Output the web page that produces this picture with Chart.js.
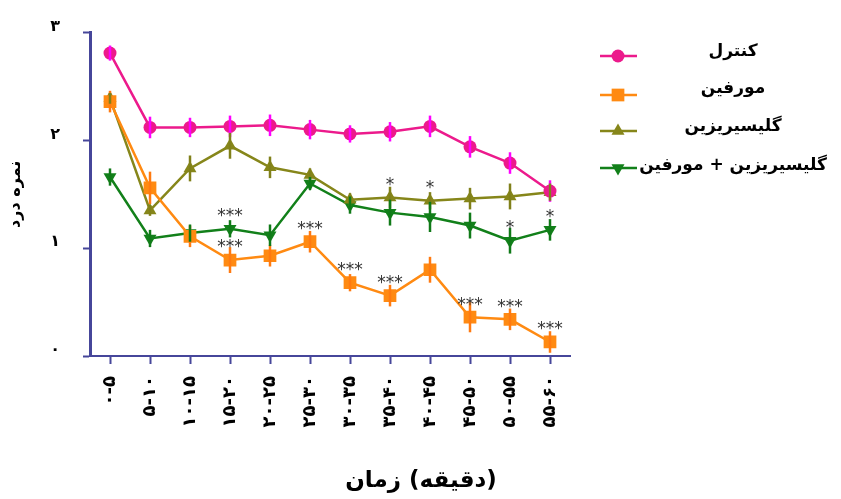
<!DOCTYPE html>
<html>
<head>
<meta charset="utf-8">
<script src="https://cdn.jsdelivr.net/npm/chart.js@4.4.0/dist/chart.umd.min.js"></script>
<style>
  html, body { margin: 0; padding: 0; background: #fff; }
  #wrap { width: 841px; height: 499px; position: relative; }
</style>
</head>
<body>
<div id="wrap"><canvas id="c" width="841" height="499"></canvas></div>
<script>
// Time bins (minutes)
const timeBins = ['۰-۵', '۵-۱۰', '۱۰-۱۵', '۱۵-۲۰', '۲۰-۲۵', '۲۵-۳۰', '۳۰-۳۵', '۳۵-۴۰', '۴۰-۴۵', '۴۵-۵۰', '۵۰-۵۵', '۵۵-۶۰'];
const yTickLabels = ['۰', '۱', '۲', '۳'];
const xTitle = 'زمان (دقیقه)';
const yTitle = 'نمره درد';

// Series names
const seriesNames = ['کنترل', 'مورفین', 'گلیسیریزین', 'گلیسیریزین + مورفین'];

// Mean pain scores
const controlMean   = [2.81, 2.12, 2.12, 2.13, 2.14, 2.10, 2.06, 2.08, 2.13, 1.94, 1.79, 1.53];
const morphineMean  = [2.36, 1.56, 1.11, 0.89, 0.93, 1.06, 0.68, 0.56, 0.80, 0.36, 0.34, 0.13];
const glyMean       = [2.39, 1.35, 1.74, 1.95, 1.75, 1.68, 1.45, 1.47, 1.44, 1.46, 1.48, 1.52];
const glyMorphMean  = [1.66, 1.09, 1.14, 1.18, 1.12, 1.60, 1.40, 1.33, 1.29, 1.21, 1.07, 1.17];

// Standard errors
const controlErr    = [0.07, 0.10, 0.09, 0.10, 0.10, 0.09, 0.08, 0.09, 0.10, 0.10, 0.10, 0.10];
const morphineErr   = [0.10, 0.15, 0.10, 0.12, 0.10, 0.10, 0.08, 0.10, 0.12, 0.14, 0.10, 0.10];
const glyErr        = [0.05, 0.05, 0.12, 0.12, 0.10, 0.06, 0.06, 0.10, 0.08, 0.10, 0.12, 0.08];
const glyMorphErr   = [0.08, 0.08, 0.08, 0.08, 0.10, 0.06, 0.08, 0.12, 0.14, 0.12, 0.12, 0.10];

// Significance marks
const controlSig    = ['', '', '', '', '', '', '', '', '', '', '', ''];
const morphineSig   = ['', '', '', '***', '', '***', '***', '***', '', '***', '***', '***'];
const glySig        = ['', '', '', '', '', '', '', '*', '*', '', '', ''];
const glyMorphSig   = ['', '', '', '***', '', '', '', '', '', '', '*', '*'];

const axisColor = '#46469a';
const fontFam = '"DejaVu Sans", sans-serif';

const styles = [
  { color: '#ec1a8c', errColor: '#f0f', point: 'circle', radius: 6.5, rot: 0 },
  { color: '#ff8a12', errColor: '#ff7a10', point: 'rect', radius: 9, rot: 0 },
  { color: '#86861a', errColor: '#80801a', point: 'triangle', radius: 7.5, rot: 0 },
  { color: '#12801a', errColor: '#107a18', point: 'triangle', radius: 7.5, rot: 180 }
];
const means = [controlMean, morphineMean, glyMean, glyMorphMean];
const errs = [controlErr, morphineErr, glyErr, glyMorphErr];
const sigs = [controlSig, morphineSig, glySig, glyMorphSig];

const datasets = means.map((m, i) => ({
  label: seriesNames[i],
  data: m,
  errors: errs[i],
  sig: sigs[i],
  errColor: styles[i].errColor,
  borderColor: styles[i].color,
  backgroundColor: styles[i].color,
  pointBackgroundColor: styles[i].color,
  pointBorderColor: styles[i].color,
  borderWidth: 2.5,
  pointStyle: styles[i].point,
  pointRadius: styles[i].radius,
  pointRotation: styles[i].rot,
  pointBorderWidth: 0,
  tension: 0
}));

// Vertical error bars and significance asterisks
const annotate = {
  id: 'annotate',
  afterDatasetsDraw(chart) {
    const ctx = chart.ctx;
    const y = chart.scales.y;
    ctx.save();
    chart.data.datasets.forEach((ds, di) => {
      const meta = chart.getDatasetMeta(di);
      meta.data.forEach((pt, i) => {
        const v = ds.data[i], e = ds.errors[i];
        ctx.strokeStyle = ds.errColor;
        ctx.lineWidth = 2.5;
        ctx.beginPath();
        ctx.moveTo(pt.x, y.getPixelForValue(v - e));
        ctx.lineTo(pt.x, y.getPixelForValue(v + e));
        ctx.stroke();
      });
    });
    ctx.fillStyle = '#333';
    ctx.font = '17px ' + fontFam;
    ctx.textAlign = 'center';
    ctx.textBaseline = 'middle';
    chart.data.datasets.forEach((ds, di) => {
      const meta = chart.getDatasetMeta(di);
      meta.data.forEach((pt, i) => {
        const s = ds.sig[i];
        if (s) ctx.fillText(s, pt.x, pt.y - 12);
      });
    });
    ctx.restore();
  }
};

// Legend at the right and the time-axis caption
const sideLegend = {
  id: 'sideLegend',
  afterDraw(chart) {
    const ctx = chart.ctx;
    const rows = [56, 95, 131, 168];
    const textRows = [52, 89, 127, 166];
    ctx.save();
    chart.data.datasets.forEach((ds, i) => {
      const st = styles[i];
      const yy = rows[i];
      ctx.strokeStyle = st.color;
      ctx.lineWidth = 2.5;
      ctx.beginPath();
      ctx.moveTo(600, yy);
      ctx.lineTo(637, yy);
      ctx.stroke();
      ctx.fillStyle = st.color;
      const cx = 618, r = st.radius;
      ctx.beginPath();
      if (st.point === 'circle') {
        ctx.arc(cx, yy, r, 0, Math.PI * 2);
      } else if (st.point === 'rect') {
        const s = r * Math.SQRT1_2;
        ctx.rect(cx - s, yy - s, 2 * s, 2 * s);
      } else {
        const dir = st.rot ? -1 : 1;
        const w = r * Math.sqrt(3) / 2;
        ctx.moveTo(cx, yy - dir * r);
        ctx.lineTo(cx - w, yy + dir * r / 2);
        ctx.lineTo(cx + w, yy + dir * r / 2);
        ctx.closePath();
      }
      ctx.fill();
      ctx.fillStyle = '#000';
      ctx.font = 'bold 17px ' + fontFam;
      ctx.textAlign = 'center';
      ctx.textBaseline = 'middle';
      ctx.fillText(ds.label, 733, textRows[i]);
    });

    // caption words laid out left to right
    ctx.font = 'bold 23px ' + fontFam;
    ctx.fillStyle = '#000';
    ctx.textAlign = 'left';
    ctx.textBaseline = 'middle';
    const words = xTitle.split(' ');
    const gap = ctx.measureText(' ').width;
    const widths = words.map(w => ctx.measureText(w).width);
    const total = widths.reduce((a, b) => a + b, 0) + gap * (words.length - 1);
    let x = 421 - total / 2;
    words.forEach((w, k) => {
      ctx.fillText(w, x, 481);
      x += widths[k] + gap;
    });
    ctx.restore();
  }
};

new Chart(document.getElementById('c'), {
  type: 'line',
  data: { labels: timeBins, datasets },
  options: {
    responsive: false,
    animation: false,
    devicePixelRatio: 1,
    layout: { padding: { left: 0, right: 271, top: 32, bottom: 43 } },
    plugins: {
      legend: { display: false },
      tooltip: { enabled: false },
      title: { display: false }
    },
    scales: {
      x: {
        type: 'category',
        offset: true,
        grid: { display: true, drawOnChartArea: false, drawTicks: true, tickLength: 8, tickColor: axisColor, tickWidth: 2 },
        border: { display: true, color: axisColor, width: 2 },
        ticks: {
          minRotation: 90, maxRotation: 90, autoSkip: false, padding: 12,
          color: '#000', font: { family: fontFam, size: 18, weight: 'bold' }
        },
        afterFit(scale) { scale.height = 100; }
      },
      y: {
        min: 0, max: 3,
        grid: { display: true, drawOnChartArea: false, drawTicks: true, tickLength: 7, tickColor: axisColor, tickWidth: 2 },
        border: { display: true, color: axisColor, width: 3 },
        ticks: {
          stepSize: 1, padding: 23, labelOffset: -6,
          color: '#000', font: { family: fontFam, size: 16, weight: 'bold' },
          callback: (v) => yTickLabels[v]
        },
        title: {
          display: true, text: yTitle, color: '#000',
          font: { family: fontFam, size: 16, weight: 'bold' },
          padding: { top: 6, bottom: 0 }
        },
        afterFit(scale) { scale.width = 90; }
      }
    }
  },
  plugins: [annotate, sideLegend]
});
</script>
</body>
</html>
